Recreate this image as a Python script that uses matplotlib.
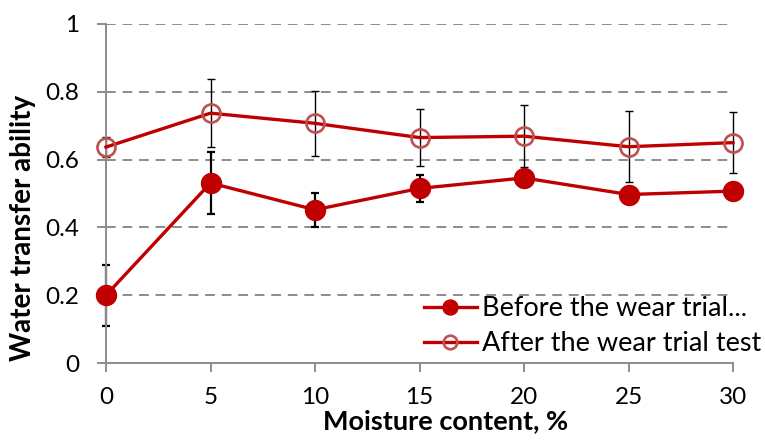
import numpy as np
import matplotlib.pyplot as plt

plt.rcParams['font.family'] = ['Lato', 'DejaVu Sans']

moisture = [0, 5, 10, 15, 20, 25, 30]
before = [0.200, 0.531, 0.452, 0.515, 0.546, 0.497, 0.507]
before_err = [0.090, 0.090, 0.050, 0.040, 0.020, 0.020, 0.015]
after = [0.637, 0.737, 0.707, 0.665, 0.669, 0.638, 0.650]
after_err = [0.030, 0.100, 0.095, 0.085, 0.092, 0.105, 0.090]

W, H = 765, 441
fig = plt.figure(figsize=(W / 100, H / 100), dpi=100)
ax = fig.add_axes([106 / W, 1 - 363 / H, 627 / W, 339 / H])

ax.errorbar(moisture, after, yerr=after_err, fmt="none", ecolor="black",
            elinewidth=1.0, capsize=3, capthick=1.0, zorder=2, clip_on=False)
ax.errorbar(moisture, before, yerr=before_err, fmt="none", ecolor="black",
            elinewidth=1.6, capsize=3, capthick=1.6, zorder=2, clip_on=False)

ax.plot(moisture, before, "-o", color="#C00000", lw=2.4, ms=14.4,
        label="Before the wear trial...", zorder=3, clip_on=False)
ax.plot(moisture, after, "-o", color="#C00000", lw=2.4, ms=13,
        mfc="none", mec="#C0504D", mew=1.9,
        label="After the wear trial test", zorder=3, clip_on=False)

ax.set_xlim(0, 30)
ax.set_ylim(0, 1)
ax.set_xticks(moisture)
ax.set_yticks([0, 0.2, 0.4, 0.6, 0.8, 1])
ax.set_yticklabels(["0", "0.2", "0.4", "0.6", "0.8", "1"])
for y in [0.2, 0.4, 0.6, 0.8, 1.0]:
    ax.axhline(y, color="#8c8c8c", lw=1.4, ls=(0, (5, 3.5)), zorder=1)

ax.spines["top"].set_visible(False)
ax.spines["right"].set_visible(False)
for s in ["left", "bottom"]:
    ax.spines[s].set_color("#8c8c8c")
    ax.spines[s].set_linewidth(1.4)
ax.tick_params(colors="#8c8c8c", labelcolor="black", labelsize=17.5,
               length=6.5, width=1.4)
ax.tick_params(axis="x", pad=11)
ax.tick_params(axis="y", pad=13)

fig.text(446 / W, 1 - 429 / H, "Moisture content, %", fontsize=19.5,
         fontweight="bold", ha="center", va="baseline")
fig.text(23 / W, 1 - 228 / H, "Water transfer ability", fontsize=20,
         fontweight="bold", ha="center", va="center", rotation=90)

ax.legend(loc="upper left", bbox_to_anchor=(424 / W, 1 - 296 / H),
          bbox_transform=fig.transFigure, frameon=False, borderpad=0,
          borderaxespad=0, fontsize=19.5, markerscale=0.75,
          handlelength=1.95, handletextpad=0.2, labelspacing=0.38)

fig.savefig("out.png", dpi=100)
